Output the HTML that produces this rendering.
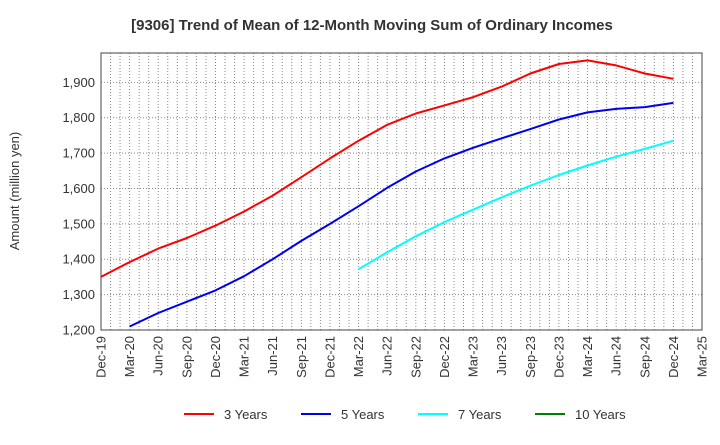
<!DOCTYPE html>
<html><head><meta charset="utf-8"><style>
body{margin:0;background:#fff;font-family:"Liberation Sans",sans-serif}
svg text{font-family:"Liberation Sans",sans-serif}
</style></head><body>
<svg id="c" width="720" height="440" xmlns="http://www.w3.org/2000/svg">
<text x="372" y="30" text-anchor="middle" font-size="15" font-weight="bold" fill="#333">[9306]  Trend of Mean of 12-Month Moving Sum of Ordinary Incomes</text>
<text transform="translate(19,191) rotate(-90)" text-anchor="middle" font-size="13" fill="#333">Amount (million yen)</text>
<g id="grid"></g><g id="axes"></g><g id="series"></g><g id="legend"></g>
</svg>
<script>
const xLabels=["Dec-19","Mar-20","Jun-20","Sep-20","Dec-20","Mar-21","Jun-21","Sep-21","Dec-21","Mar-22","Jun-22","Sep-22","Dec-22","Mar-23","Jun-23","Sep-23","Dec-23","Mar-24","Jun-24","Sep-24","Dec-24","Mar-25"];
const yTicks=[1200,1300,1400,1500,1600,1700,1800,1900];
const red=[1350,1392,1430,1460,1495,1535,1580,1632,1685,1735,1780,1812,1835,1858,1888,1925,1952,1962,1948,1925,1910];
const blue=[null,1210,1248,1280,1312,1352,1400,1452,1500,1550,1602,1648,1685,1715,1742,1768,1795,1815,1825,1830,1842];
const cyan=[null,null,null,null,null,null,null,null,null,1372,1420,1465,1505,1540,1575,1608,1638,1665,1690,1712,1735];
const green=[];
const L=101,R=702,T=53,B=330,yMin=1200,yMax=1983;
const NS="http://www.w3.org/2000/svg";
const xs=q=>L+(R-L)*q/(xLabels.length-1);
const ys=v=>B-(v-yMin)/(yMax-yMin)*(B-T);
function mk(t,a,p){const e=document.createElementNS(NS,t);for(const k in a)e.setAttribute(k,a[k]);p.appendChild(e);return e;}
const g=document.getElementById('grid'),ax=document.getElementById('axes'),s=document.getElementById('series'),lg=document.getElementById('legend');
for(let m=1;m<(xLabels.length-1)*3;m++){const x=L+(R-L)*m/((xLabels.length-1)*3);
const l=mk('line',{x1:x,x2:x,y1:T,y2:B,stroke:'#888','stroke-width':1,'stroke-dasharray':'1,2'},g);

}
yTicks.forEach(v=>{const y=ys(v);
const l=mk('line',{x1:L,x2:R,y1:y,y2:y,stroke:'#888','stroke-width':1,'stroke-dasharray':'1,2'},g);


const t=mk('text',{x:L-6,y:y+4.5,'text-anchor':'end','font-size':13,fill:'#333'},ax);t.textContent=v.toLocaleString('en-US');

});
const fr=mk('rect',{x:L,y:T,width:R-L,height:B-T,fill:'none',stroke:'#444','stroke-width':1},ax);


xLabels.forEach((lab,i)=>{const x=xs(i);
const t=mk('text',{transform:`translate(${x+4.5},${B+6}) rotate(-90)`,'text-anchor':'end','font-size':13,fill:'#333'},ax);t.textContent=lab;

});
function line(d,c,n){const pts=[];d.forEach((v,i)=>{if(v!=null)pts.push(xs(i).toFixed(1)+','+ys(v).toFixed(1));});
if(!pts.length)return;
const p=mk('polyline',{points:pts.join(' '),fill:'none',stroke:c,'stroke-width':2,'stroke-linejoin':'round'},s);

}
line(red,'#ff0000','series-3-years');line(blue,'#0000ee','series-5-years');line(cyan,'#00ffff','series-7-years');line(green,'#008000','series-10-years');
[['3 Years','#ff0000',184],['5 Years','#0000ee',301],['7 Years','#00ffff',418],['10 Years','#008000',535]].forEach(([n,c,x])=>{
const gg=mk('g',{},lg);


mk('line',{x1:x,x2:x+30,y1:414,y2:414,stroke:c,'stroke-width':2},gg);
const t=mk('text',{x:x+40,y:419,'font-size':13,fill:'#333'},gg);t.textContent=n;});
</script>
</body></html>
